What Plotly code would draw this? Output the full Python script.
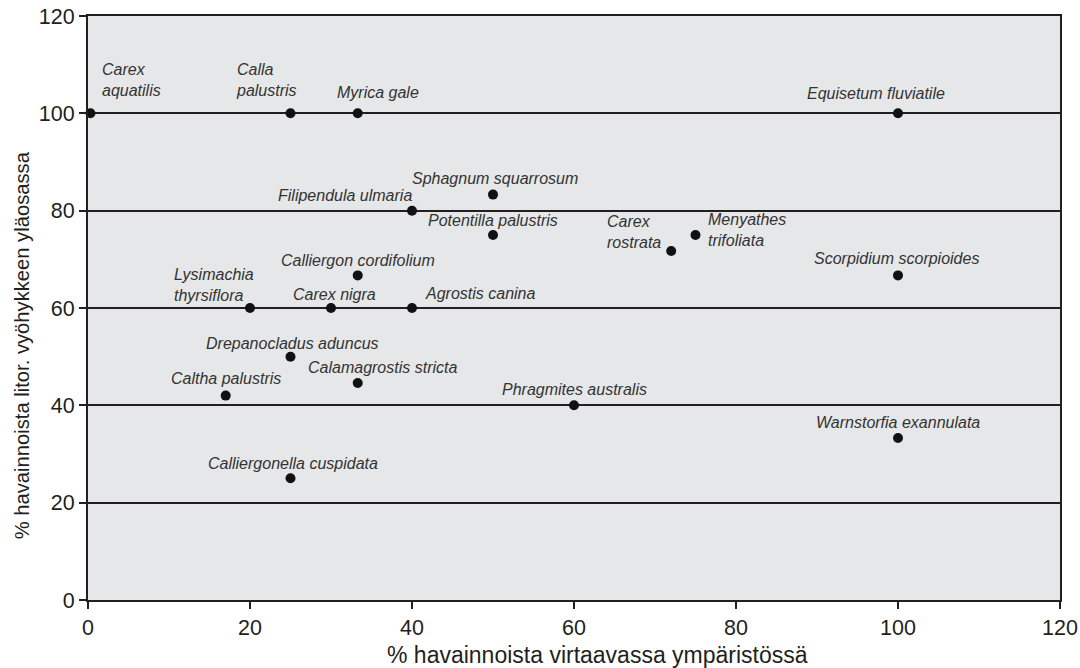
import plotly.graph_objects as go

# Species and their shares (%) of observations
species = [
    "Carex<br>aquatilis", "Calla<br>palustris", "Myrica gale", "Equisetum fluviatile",
    "Sphagnum squarrosum", "Filipendula ulmaria", "Potentilla palustris",
    "Carex<br>rostrata", "Menyathes<br>trifoliata", "Scorpidium scorpioides",
    "Calliergon cordifolium", "Lysimachia<br>thyrsiflora", "Carex nigra",
    "Agrostis canina", "Drepanocladus aduncus", "Calamagrostis stricta",
    "Caltha palustris", "Phragmites australis", "Warnstorfia exannulata",
    "Calliergonella cuspidata",
]
flowing_pct = [0.3, 25, 33.3, 100, 50, 40, 50, 72, 75, 100,
               33.3, 20, 30, 40, 25, 33.3, 17, 60, 100, 25]
upper_littoral_pct = [100, 100, 100, 100, 83.3, 80, 75, 71.7, 75, 66.7,
                      66.7, 60, 60, 60, 50, 44.6, 42, 40, 33.3, 25]

x_ticks = [0, 20, 40, 60, 80, 100, 120]
y_ticks = [0, 20, 40, 60, 80, 100, 120]

x_title = "% havainnoista virtaavassa ympäristössä"
y_title = "% havainnoista litor. vyöhykkeen yläosassa"

# label placement: (xanchor, xshift px, yshift px, align)
label_pos = {
    "Carex<br>aquatilis": ("left", 10, 33, "left"),
    "Calla<br>palustris": ("left", -57, 33, "left"),
    "Myrica gale": ("left", -23, 21, "left"),
    "Equisetum fluviatile": ("center", -22, 20, "center"),
    "Sphagnum squarrosum": ("center", 2, 16, "center"),
    "Filipendula ulmaria": ("right", 2, 15, "right"),
    "Potentilla palustris": ("center", 0, 15, "center"),
    "Carex<br>rostrata": ("left", -66, 19, "left"),
    "Menyathes<br>trifoliata": ("left", 10, 5, "left"),
    "Scorpidium scorpioides": ("center", -2, 17, "center"),
    "Calliergon cordifolium": ("center", 0, 15, "center"),
    "Lysimachia<br>thyrsiflora": ("left", -78, 23, "left"),
    "Carex nigra": ("center", 3, 14, "center"),
    "Agrostis canina": ("left", 11, 15, "left"),
    "Drepanocladus aduncus": ("center", 2, 13, "center"),
    "Calamagrostis stricta": ("center", 25, 15, "center"),
    "Caltha palustris": ("center", 0, 17, "center"),
    "Phragmites australis": ("center", 0, 16, "center"),
    "Warnstorfia exannulata": ("center", 0, 15, "center"),
    "Calliergonella cuspidata": ("center", 2, 15, "center"),
}

FONT = "Liberation Sans, Arial, sans-serif"
INK = "#231f20"

fig = go.Figure()
fig.add_trace(go.Scatter(
    x=flowing_pct, y=upper_littoral_pct, mode="markers",
    marker=dict(size=10, color="#111111"),
    hoverinfo="skip", showlegend=False, cliponaxis=False,
))

for name, xv, yv in zip(species, flowing_pct, upper_littoral_pct):
    xa, xs, ys, al = label_pos[name]
    fig.add_annotation(
        x=xv, y=yv, xref="x", yref="y", text=f"<i>{name}</i>",
        showarrow=False, xanchor=xa, yanchor="middle", align=al,
        xshift=xs, yshift=ys,
        font=dict(family=FONT, size=16, color="#333333"),
    )

# axis titles
fig.add_annotation(
    x=0.524, y=-0.094, xref="paper", yref="paper", text=x_title,
    showarrow=False, xanchor="center", yanchor="middle",
    font=dict(family=FONT, size=23, color=INK),
)
fig.add_annotation(
    x=-0.067, y=0.436, xref="paper", yref="paper", text=y_title,
    showarrow=False, xanchor="center", yanchor="middle", textangle=-90,
    font=dict(family=FONT, size=20.2, color=INK),
)

fig.update_layout(
    width=1080, height=668,
    margin=dict(l=88, r=20, t=16, b=68, autoexpand=False),
    paper_bgcolor="white", plot_bgcolor="#e6e7e8",
    font=dict(family=FONT, color=INK),
)
fig.update_xaxes(
    range=[0, 120], tickvals=x_ticks, showgrid=False, zeroline=False,
    automargin=False,
    showline=True, mirror=True, linecolor=INK, linewidth=2,
    ticks="outside", ticklen=7, tickwidth=1.5, tickcolor=INK,
    tickfont=dict(size=21.5, color=INK),
)
fig.update_yaxes(
    range=[0, 120], tickvals=y_ticks, showgrid=True, gridcolor=INK, gridwidth=1.5,
    automargin=False,
    zeroline=False, showline=True, mirror=True, linecolor=INK, linewidth=2,
    ticks="outside", ticklen=7, tickwidth=1.5, tickcolor=INK,
    tickfont=dict(size=21.5, color=INK),
)

fig.write_html("out.html")
